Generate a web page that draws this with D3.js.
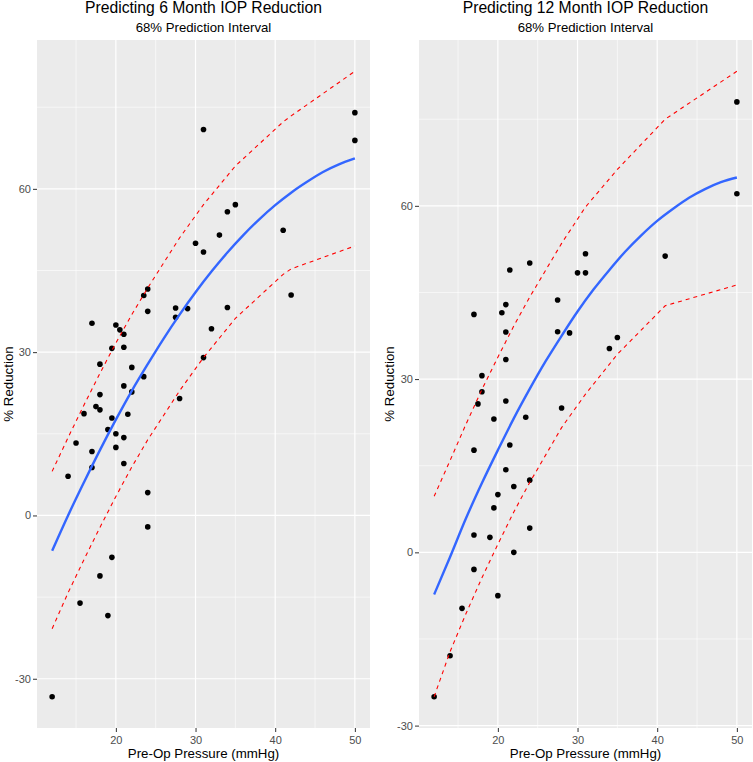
<!DOCTYPE html>
<html>
<head>
<meta charset="utf-8">
<script src="https://cdnjs.cloudflare.com/ajax/libs/d3/7.8.5/d3.min.js"></script>
<style>
  html, body { margin: 0; padding: 0; background: #ffffff; }
  svg { display: block; font-family: "Liberation Sans", Arial, sans-serif; }
</style>
</head>
<body>
<svg id="chart" width="753" height="762"></svg>
<script>
// ---------------- DATA ----------------
const titles = ["Predicting 6 Month IOP Reduction", "Predicting 12 Month IOP Reduction"];
const subtitle = "68% Prediction Interval";
const xTitle = "Pre-Op Pressure (mmHg)";
const yTitle = "% Reduction";
const xTicks = [20, 30, 40, 50];
const xTickLabels = ["20", "30", "40", "50"];
const yTicks = [-30, 0, 30, 60];
const yTickLabels = ["-30", "0", "30", "60"];
const xMinor = [15, 25, 35, 45];
const yMinor = [-15, 15, 45, 75];

// 6-month observations
const pre6 = [50, 50, 31, 35, 34, 33, 41, 30, 31, 42, 24, 23.5, 24, 27.5, 27.5, 29, 34, 32, 17, 20,
  20.5, 21, 19.5, 21, 31, 18, 22, 23.5, 21, 18, 22, 28, 17.5, 18, 16, 21.5, 19.5, 19, 20, 21,
  15, 20, 17, 21, 17, 14, 24, 24, 19.5, 18, 15.5, 19, 12];
const red6 = [74.0, 68.9, 70.9, 57.1, 55.8, 51.5, 52.4, 50.0, 48.4, 40.5, 41.6, 40.4, 37.5, 38.1, 36.4, 38.0, 38.2, 34.3, 35.3, 35.0,
  34.1, 33.3, 30.7, 30.9, 29.0, 27.8, 27.2, 25.5, 23.8, 22.2, 22.7, 21.5, 20.0, 19.4, 18.7, 18.6, 17.9, 15.8, 15.0, 14.3,
  13.3, 12.5, 11.75, 9.55, 8.8, 7.2, 4.2, -2.1, -7.7, -11.1, -16.1, -18.4, -33.3];

// 12-month observations
const pre12 = [50, 50, 31, 41, 24, 21.5, 30, 31, 27.5, 21, 17, 20.5, 27.5, 21, 29, 35, 34, 21, 18, 18,
  17.5, 21, 28, 19.5, 23.5, 21.5, 17, 21, 24, 22, 20, 19.5, 24, 17, 19, 22, 17, 20, 15.5, 14, 12];
const red12 = [78.0, 62.1, 51.7, 51.3, 50.1, 48.9, 48.4, 48.4, 43.7, 42.9, 41.2, 41.5, 38.2, 38.15, 38.0, 37.2, 35.3, 33.4, 30.6, 27.8,
  25.7, 26.2, 25.0, 23.1, 23.4, 18.6, 17.7, 14.3, 12.5, 11.4, 10.0, 7.7, 4.2, 3.0, 2.6, 0.0, -2.95, -7.5, -9.7, -17.9, -25.0];

// fitted curve
const fitX = [12, 14, 16, 18, 20, 22, 24, 26, 28, 30, 32, 34, 36, 38, 40, 42, 44, 46, 48, 50];
const fit6 = [-6.5, 0.0, 6.1, 12.0, 17.6, 22.9, 27.8, 32.5, 36.9, 41.0, 44.8, 48.3, 51.5, 54.4, 57.0, 59.3, 61.3, 63.1, 64.5, 65.6];
const fit12 = [-7.3, -0.8, 5.9, 12.0, 17.7, 23.2, 28.3, 33.1, 37.5, 41.7, 45.5, 48.9, 52.1, 54.9, 57.4, 59.5, 61.4, 62.9, 64.1, 64.9];

// prediction interval (dashed lines)
const band6X = [12, 14, 16, 18, 20, 22, 24, 28, 31, 35, 41, 42, 50];
const upper6 = [8.1, 14.3, 20.3, 26.1, 31.7, 36.9, 41.8, 51.0, 57.1, 64.2, 72.3, 73.4, 81.6];
const lower6 = [-20.8, -14.2, -8.1, -2.2, 3.5, 8.9, 13.9, 22.9, 29.0, 36.2, 44.3, 45.3, 49.5];

const band12X = [12, 14, 16, 18, 20, 22, 24, 28, 31, 35, 41, 50];
const upper12 = [9.7, 15.9, 22.2, 28.2, 33.8, 39.2, 44.2, 53.5, 59.8, 66.3, 75.0, 83.3];
const lower12 = [-25.0, -17.2, -10.6, -4.4, 1.4, 7.0, 12.1, 21.6, 27.4, 34.3, 42.7, 46.3];

// ---------------- DRAW ----------------
const svg = d3.select("#chart");

const panels = [
  { title: titles[0], pre: pre6, red: red6, fit: fit6, bx: band6X, up: upper6, lo: lower6,
    x0: 37, x1: 370, yLabX: 13 },
  { title: titles[1], pre: pre12, red: red12, fit: fit12, bx: band12X, up: upper12, lo: lower12,
    x0: 419, x1: 752, yLabX: 394 }
];
const plotTop = 40, plotBottom = 728;

function expanded(lo, hi) { const r = hi - lo; return [lo - 0.05 * r, hi + 0.05 * r]; }

panels.forEach(p => {
  const allX = p.pre.concat(p.bx, fitX);
  const allY = p.red.concat(p.up, p.lo, p.fit);
  const x = d3.scaleLinear().domain(expanded(d3.min(allX), d3.max(allX))).range([p.x0, p.x1]);
  const y = d3.scaleLinear().domain(expanded(d3.min(allY), d3.max(allY))).range([plotBottom, plotTop]);

  const g = svg.append("g");
  g.append("rect").attr("x", p.x0).attr("y", plotTop).attr("width", p.x1 - p.x0).attr("height", plotBottom - plotTop)
    .attr("fill", "#EBEBEB");

  const [dx0, dx1] = x.domain(), [dy0, dy1] = y.domain();
  // minor grid
  g.selectAll(".xmin").data(xMinor.filter(v => v > dx0 && v < dx1)).join("line")
    .attr("x1", d => x(d)).attr("x2", d => x(d)).attr("y1", plotTop).attr("y2", plotBottom)
    .attr("stroke", "#fff").attr("stroke-width", 0.6);
  g.selectAll(".ymin").data(yMinor.filter(v => v > dy0 && v < dy1)).join("line")
    .attr("y1", d => y(d)).attr("y2", d => y(d)).attr("x1", p.x0).attr("x2", p.x1)
    .attr("stroke", "#fff").attr("stroke-width", 0.6);
  // major grid
  g.selectAll(".xmaj").data(xTicks).join("line")
    .attr("x1", d => x(d)).attr("x2", d => x(d)).attr("y1", plotTop).attr("y2", plotBottom)
    .attr("stroke", "#fff").attr("stroke-width", 1.2);
  g.selectAll(".ymaj").data(yTicks).join("line")
    .attr("y1", d => y(d)).attr("y2", d => y(d)).attr("x1", p.x0).attr("x2", p.x1)
    .attr("stroke", "#fff").attr("stroke-width", 1.2);

  // axes
  const xAxis = d3.axisBottom(x).tickValues(xTicks).tickFormat((d, i) => xTickLabels[i])
    .tickSize(4).tickPadding(4);
  const gx = g.append("g").attr("transform", `translate(0,${plotBottom})`).call(xAxis);
  const yAxis = d3.axisLeft(y).tickValues(yTicks).tickFormat((d, i) => yTickLabels[i])
    .tickSize(4).tickPadding(2);
  const gy = g.append("g").attr("transform", `translate(${p.x0},0)`).call(yAxis);
  [gx, gy].forEach(a => {
    a.select(".domain").remove();
    a.selectAll(".tick line").attr("stroke", "#333333").attr("stroke-width", 1);
    a.selectAll(".tick text").attr("fill", "#4D4D4D").style("font-size", "11px")
      .style("font-family", "'Liberation Sans', Arial, sans-serif");
  });

  // clip
  const clipId = "clip" + p.x0;
  g.append("clipPath").attr("id", clipId).append("rect")
    .attr("x", p.x0).attr("y", plotTop).attr("width", p.x1 - p.x0).attr("height", plotBottom - plotTop);
  const plot = g.append("g").attr("clip-path", `url(#${clipId})`);

  // points
  plot.selectAll("circle").data(p.pre.map((v, i) => [v, p.red[i]])).join("circle")
    .attr("cx", d => x(d[0])).attr("cy", d => y(d[1])).attr("r", 2.8).attr("fill", "#000");

  // fit curve
  const fitLine = d3.line().x(d => x(d[0])).y(d => y(d[1])).curve(d3.curveMonotoneX);
  plot.append("path").datum(fitX.map((v, i) => [v, p.fit[i]]))
    .attr("d", fitLine).attr("fill", "none").attr("stroke", "#3366FF").attr("stroke-width", 2.4);

  // bands
  const bandLine = d3.line().x(d => x(d[0])).y(d => y(d[1]));
  [p.up, p.lo].forEach(arr => {
    plot.append("path").datum(p.bx.map((v, i) => [v, arr[i]]))
      .attr("d", bandLine).attr("fill", "none").attr("stroke", "#FF0000")
      .attr("stroke-width", 1.1).attr("stroke-dasharray", "4,4");
  });

  // titles
  const cx = (p.x0 + p.x1) / 2;
  svg.append("text").attr("x", cx).attr("y", 12.5).attr("text-anchor", "middle")
    .style("font-size", "15.7px").attr("fill", "#000").text(p.title);
  svg.append("text").attr("x", cx).attr("y", 31.5).attr("text-anchor", "middle")
    .style("font-size", "13.2px").attr("fill", "#000").text(subtitle);
  svg.append("text").attr("x", cx).attr("y", 757.5).attr("text-anchor", "middle")
    .style("font-size", "13.3px").attr("fill", "#000").text(xTitle);
  svg.append("text").attr("transform", `translate(${p.yLabX},${(plotTop + plotBottom) / 2}) rotate(-90)`)
    .attr("text-anchor", "middle").style("font-size", "13.3px").attr("fill", "#000").text(yTitle);
});
</script>
</body>
</html>
